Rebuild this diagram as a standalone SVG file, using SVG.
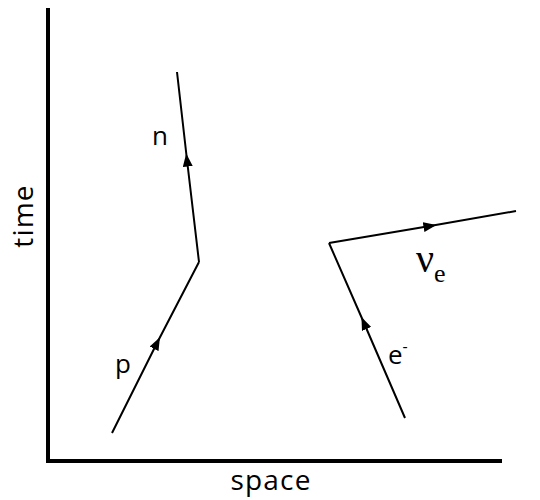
<svg xmlns="http://www.w3.org/2000/svg" width="540" height="500" viewBox="0 0 540 500">
<style>
.ln{fill:none;stroke:#000;stroke-width:2}
.ax{fill:none;stroke:#000;stroke-width:4}
.t{font-family:"Open Sans","Liberation Sans",sans-serif;fill:#000}
.big{font-size:28px;letter-spacing:1.2px}
.s{font-family:"Liberation Serif","Times New Roman",serif;fill:#000}
</style>
<defs>
<marker id="ah" viewBox="0 0 13 10" refX="6.5" refY="5" markerWidth="13" markerHeight="10" markerUnits="userSpaceOnUse" orient="auto">
<path d="M0,0 L13,5 L0,10 Z" fill="#000"/>
</marker>
</defs>
<g id="axes">
<polyline class="ax" points="48,8 48,461 502,461"/>
<text class="t big" text-anchor="middle" transform="translate(33,216) rotate(-90)">time</text>
<text class="t big" x="271" y="490" text-anchor="middle">space</text>
</g>
<g id="connectors">
<polyline id="p-line" class="ln" points="112,433 157,343 199,262" marker-mid="url(#ah)"/>
<polyline id="n-line" class="ln" points="199,262 187,160 177,72" marker-mid="url(#ah)"/>
<polyline id="e-line" class="ln" points="405,418 364,323 329,243" marker-mid="url(#ah)"/>
<polyline id="nu-line" class="ln" points="329,243 430,226 516,211" marker-mid="url(#ah)"/>
</g>
<g id="label-n"><text class="t" font-size="26" x="152" y="145">n</text></g>
<g id="label-p"><text class="t" font-size="26" x="115" y="373">p</text></g>
<g id="label-e"><text class="t" font-size="26" x="388" y="364">e<tspan font-size="16" dy="-12">-</tspan></text></g>
<g id="label-nu"><text class="s" font-size="40" x="416" y="272">ν<tspan font-size="26" dy="10">e</tspan></text></g>
</svg>
